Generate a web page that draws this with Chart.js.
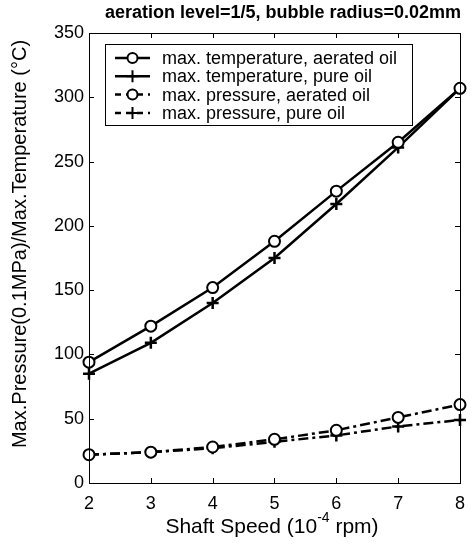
<!DOCTYPE html>
<html>
<head>
<meta charset="utf-8">
<script src="https://cdn.jsdelivr.net/npm/chart.js@4/dist/chart.umd.min.js"></script>
<style>
  html, body { margin: 0; padding: 0; background: #fff; }
  #wrap { width: 475px; height: 545px; }
</style>
</head>
<body>
<div id="wrap"><canvas id="chart" width="475" height="545"></canvas></div>
<script>
const speeds = [2, 3, 4, 5, 6, 7, 8];
const tempAerated = [94, 122, 152, 188, 227, 265, 307];
const tempPure = [85, 109, 140, 175, 217, 261, 307];
const presAerated = [22, 24, 28, 34, 41, 51, 61];
const presPure = [22, 24, 27, 32, 37, 44, 49];
const yTicks = [0, 50, 100, 150, 200, 250, 300, 350];

const FONT = "'Liberation Sans', Arial, sans-serif";
const dashDot = [10, 4, 3, 4];

const pts = (ys) => speeds.map((x, i) => ({ x: x, y: ys[i] }));

// frame, inside ticks, titles and boxed legend
const decor = {
  id: "decor",
  afterDatasetsDraw(chart) {
    const { ctx, chartArea: a, scales } = chart;
    ctx.save();
    ctx.strokeStyle = "#000";
    ctx.lineWidth = 1;
    ctx.strokeRect(a.left + 0.5, a.top + 0.5, a.right - a.left, a.bottom - a.top);
    ctx.beginPath();
    yTicks.forEach((v) => {
      const y = Math.round(scales.y.getPixelForValue(v)) + 0.5;
      ctx.moveTo(a.left, y); ctx.lineTo(a.left + 5, y);
      ctx.moveTo(a.right, y); ctx.lineTo(a.right - 5, y);
    });
    speeds.forEach((v) => {
      const x = Math.round(scales.x.getPixelForValue(v)) + 0.5;
      ctx.moveTo(x, a.bottom); ctx.lineTo(x, a.bottom - 5);
      ctx.moveTo(x, a.top); ctx.lineTo(x, a.top + 5);
    });
    ctx.stroke();

    // chart title
    ctx.fillStyle = "#000";
    ctx.font = "bold 18px " + FONT;
    ctx.textAlign = "center";
    ctx.textBaseline = "middle";
    ctx.fillText("aeration level=1/5, bubble radius=0.02mm", 283, 13);

    // x title with superscript
    const big = "21px " + FONT, small = "14px " + FONT;
    const p1 = "Shaft Speed (10", sup = "-4", p2 = " rpm)";
    ctx.textAlign = "left";
    ctx.font = big;
    const w1 = ctx.measureText(p1).width, w3 = ctx.measureText(p2).width;
    ctx.font = small;
    const w2 = ctx.measureText(sup).width;
    const x0 = 272 - (w1 + w2 + w3) / 2;
    ctx.font = big;
    ctx.fillText(p1, x0, 527);
    ctx.font = small;
    ctx.fillText(sup, x0 + w1, 518);
    ctx.font = big;
    ctx.fillText(p2, x0 + w1 + w2, 527);

    // y title
    ctx.save();
    ctx.translate(20, 244);
    ctx.rotate(-Math.PI / 2);
    ctx.textAlign = "center";
    ctx.font = "20px " + FONT;
    ctx.fillText("Max.Pressure(0.1MPa)/Max.Temperature (\u00B0C)", 0, 0);
    ctx.restore();

    // legend
    const bx = 105, by = 44, bw = 307, bh = 81;
    ctx.fillStyle = "#fff";
    ctx.fillRect(bx, by, bw, bh);
    ctx.strokeRect(bx + 0.5, by + 0.5, bw, bh);
    chart.data.datasets.forEach((ds, i) => {
      const y = 58 + i * 18.3;
      ctx.strokeStyle = "#000";
      ctx.lineWidth = 2.5;
      ctx.setLineDash(ds.borderDash ? [6, 5] : []);
      ctx.beginPath();
      ctx.moveTo(115, y); ctx.lineTo(150, y);
      ctx.stroke();
      ctx.setLineDash([]);
      ctx.lineWidth = 2;
      ctx.beginPath();
      if (ds.pointStyle === "circle") {
        ctx.fillStyle = "#fff";
        ctx.arc(132.5, y, 5, 0, Math.PI * 2);
        ctx.fill();
        ctx.stroke();
      } else {
        ctx.moveTo(126.5, y); ctx.lineTo(138.5, y);
        ctx.moveTo(132.5, y - 6); ctx.lineTo(132.5, y + 6);
        ctx.stroke();
      }
      ctx.fillStyle = "#000";
      ctx.font = "18px " + FONT;
      ctx.textAlign = "left";
      ctx.fillText(ds.label, 162, y + 1);
    });
    ctx.restore();
  }
};

const base = {
  borderColor: "#000",
  borderWidth: 2.5,
  pointBorderColor: "#000",
  pointBackgroundColor: "#fff",
  pointBorderWidth: 2,
  tension: 0,
  clip: false
};

new Chart(document.getElementById("chart"), {
  type: "line",
  data: {
    datasets: [
      { ...base, label: "max. temperature, aerated oil", data: pts(tempAerated), pointStyle: "circle", pointRadius: 5.5 },
      { ...base, label: "max. temperature, pure oil", data: pts(tempPure), pointStyle: "cross", pointRadius: 6, pointBorderWidth: 2.5 },
      { ...base, label: "max. pressure, aerated oil", data: pts(presAerated), pointStyle: "circle", pointRadius: 5.5, borderDash: dashDot },
      { ...base, label: "max. pressure, pure oil", data: pts(presPure), pointStyle: "cross", pointRadius: 6, pointBorderWidth: 2.5, borderDash: dashDot }
    ]
  },
  options: {
    responsive: false,
    animation: false,
    layout: { padding: { top: 33, right: 8, left: 0, bottom: 0 } },
    plugins: { legend: { display: false }, tooltip: { enabled: false } },
    scales: {
      x: {
        type: "linear",
        min: 2, max: 8,
        afterFit: (s) => { s.height = 62; },
        grid: { display: false, drawTicks: false },
        border: { display: false },
        ticks: { stepSize: 1, padding: 10, color: "#000", font: { family: FONT, size: 18 } }
      },
      y: {
        min: 0, max: 350,
        afterFit: (s) => { s.width = 89; },
        grid: { display: false, drawTicks: false },
        border: { display: false },
        ticks: { stepSize: 50, padding: 5, color: "#000", font: { family: FONT, size: 18 } }
      }
    }
  },
  plugins: [decor]
});
</script>
</body>
</html>
